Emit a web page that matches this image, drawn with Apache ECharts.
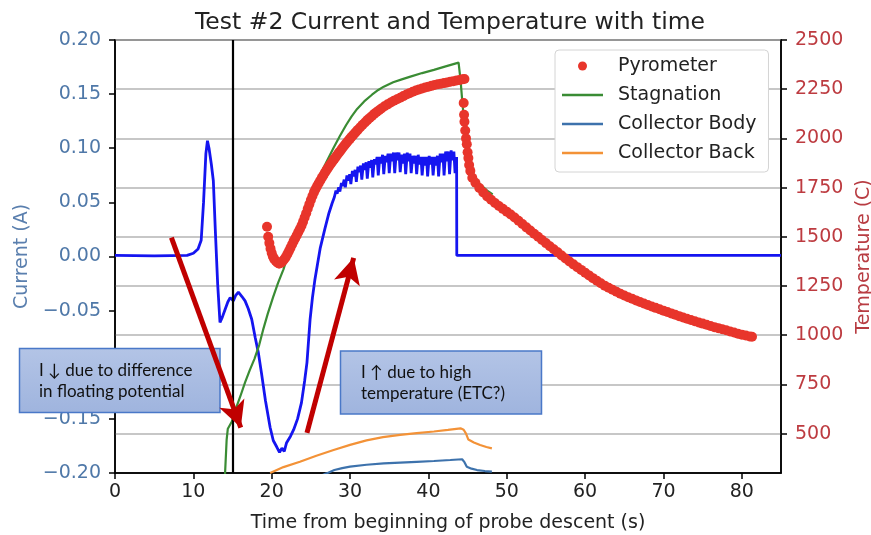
<!DOCTYPE html>
<html><head><meta charset="utf-8">
<script src="https://cdn.jsdelivr.net/npm/echarts@6/dist/echarts.min.js"></script>
<style>html,body{margin:0;padding:0;background:#fff}#c{width:871px;height:535px}</style>
</head><body><div id="c"></div>
<script>
const titleText = 'Test #2 Current and Temperature with time';
const xName = 'Time from beginning of probe descent (s)';
const leftName = 'Current (A)';
const rightName = 'Temperature (C)';
const xTicks = [0, 10, 20, 30, 40, 50, 60, 70, 80];
const tempTicks = [500, 750, 1000, 1250, 1500, 1750, 2000, 2250, 2500];
const legendNames = ['Pyrometer', 'Stagnation', 'Collector Body', 'Collector Back'];

const currentData = [
 [0,0.001],[5,0.0005],[9.2,0.001],[10.0,0.003],[10.6,0.007],[11.0,0.015],[11.3,0.05],[11.6,0.095],[11.8,0.107],[12.0,0.1],
 [12.3,0.085],[12.55,0.07],[12.8,0.025],[13.1,-0.025],[13.4,-0.061],[13.7,-0.056],[14.05,-0.049],[14.4,-0.042],[14.7,-0.038],
 [15.1,-0.041],[15.4,-0.036],[15.75,-0.033],[16.2,-0.037],[16.6,-0.041],[17.0,-0.048],[17.45,-0.058],[17.9,-0.075],[18.3,-0.089],
 [18.7,-0.108],[19.2,-0.133],[19.8,-0.158],[20.2,-0.17],[20.65,-0.176],[21.0,-0.181],[21.3,-0.177],[21.6,-0.18],[21.9,-0.172],
 [22.4,-0.166],[22.8,-0.16],[23.3,-0.15],[23.8,-0.135],[24.2,-0.115],[24.5,-0.098],[24.9,-0.058],[25.2,-0.038],[25.5,-0.022],
 [25.8,-0.009],[26.2,0.008],[26.8,0.026],[27.3,0.04],[27.7,0.049],[28.0,0.055],[28.2,0.061],[28.35,0.058],[28.55,0.064],[28.7,0.06],
 [28.9,0.068],[29.05,0.065],[29.25,0.071],[29.4,0.064],[29.6,0.075],[29.75,0.07],[29.95,0.076],[30.1,0.067],[30.3,0.079],
 [30.45,0.074],[30.65,0.08],[30.8,0.069],[31.0,0.083],[31.15,0.078],[31.35,0.084],[31.5,0.071],[31.7,0.086],[31.85,0.08],
 [32.05,0.087],[32.2,0.072],[32.4,0.088],[32.55,0.082],[32.75,0.089],[32.9,0.073],[33.1,0.09],[33.25,0.085],[33.45,0.092],
 [33.6,0.075],[33.8,0.092],[33.95,0.086],[34.15,0.094],[34.3,0.076],[34.5,0.093],[34.65,0.087],[34.85,0.095],[35.0,0.077],
 [35.2,0.095],[35.35,0.088],[35.55,0.096],[35.7,0.077],[35.9,0.096],[36.05,0.089],[36.25,0.096],[36.4,0.078],[36.6,0.094],
 [36.75,0.086],[36.95,0.095],[37.1,0.076],[37.3,0.096],[37.45,0.088],[37.65,0.095],[37.8,0.077],[38.0,0.093],[38.15,0.086],
 [38.35,0.093],[38.5,0.076],[38.7,0.094],[38.85,0.085],[39.05,0.092],[39.2,0.075],[39.4,0.092],[39.55,0.084],[39.75,0.092],
 [39.9,0.074],[40.1,0.093],[40.25,0.085],[40.45,0.092],[40.6,0.075],[40.8,0.092],[40.95,0.084],[41.15,0.093],[41.3,0.074],
 [41.5,0.095],[41.65,0.087],[41.85,0.095],[42.0,0.075],[42.2,0.097],[42.35,0.088],[42.55,0.097],[42.7,0.076],[42.9,0.098],
 [43.05,0.089],[43.25,0.097],[43.4,0.077],[43.6,0.092],[43.62,0.001],[85,0.001]
];

const pyrometerData = [
 [19.4,1551],[19.55,1500],[19.7,1468],[19.85,1440],[20.0,1418],[20.15,1400],[20.3,1388],[20.5,1378],[20.7,1370],[20.9,1365],
 [21.0,1365],[21.2,1368],[21.4,1376],[21.6,1386],[21.8,1397],[22.0,1412],[22.2,1428],[22.4,1444],[22.6,1461],[22.8,1478],
 [23.0,1493],[23.2,1508],[23.4,1524],[23.6,1540],[23.8,1556],[24.0,1576],[24.2,1598],[24.4,1620],[24.6,1643],[24.8,1665],
 [25.0,1687],[25.2,1707],[25.4,1727],[25.6,1743],[25.8,1758],[26.0,1772],[26.2,1786],[26.4,1800],[26.6,1813],[26.8,1827],
 [27.0,1839],[27.2,1851],[27.4,1863],[27.6,1874],[27.8,1885],[28.0,1896],[28.2,1907],[28.4,1918],[28.6,1929],[28.8,1939],
 [29.0,1950],[29.2,1960],[29.4,1970],[29.6,1980],[29.8,1989],[30.0,1999],[30.2,2008],[30.4,2017],[30.6,2026],[30.8,2035],
 [31.0,2044],[31.3,2057],[31.6,2069],[31.9,2081],[32.2,2093],[32.5,2104],[32.8,2114],[33.1,2125],[33.4,2134],[33.7,2143],
 [34.0,2152],[34.4,2163],[34.8,2173],[35.2,2182],[35.6,2191],[36.0,2199],[36.4,2207],[36.8,2215],
 [37.2,2223],[37.6,2230],[38.0,2237],[38.4,2243],[38.8,2249],[39.2,2254],[39.6,2259],[40.0,2263],[40.4,2267],[40.8,2271],
 [41.2,2275],[41.6,2278],[42.0,2281],[42.4,2284],[42.8,2288],[43.2,2291],[43.6,2294],[44.0,2297],[44.3,2300],[44.6,2302],
 [44.5,2180],[44.55,2120],[44.6,2085],[44.7,2040],[44.8,2000],[44.9,1970],[45.0,1930],[45.1,1900],[45.2,1865],[45.35,1835],
 [45.6,1800],[46.0,1775],[46.5,1748],[47.0,1725],[47.5,1705],[48.0,1688],[48.5,1672],[49.0,1657],[49.5,1642],[50.0,1628],
 [50.5,1613],[51.0,1598],[51.5,1582],[52.0,1565],[52.5,1548],[53.0,1532],[53.5,1516],[54.0,1500],[54.5,1484],[55.0,1468],
 [55.5,1452],[56.0,1437],[56.5,1421],[57.0,1405],[57.5,1390],[58.0,1375],[58.5,1360],[59.0,1346],[59.5,1332],[60.0,1318],
 [60.5,1304],[61.0,1290],[61.5,1277],[62.0,1264],[62.5,1252],[63.0,1241],[63.5,1231],[64.0,1221],[64.5,1211],[65.0,1202],
 [65.5,1193],[66.0,1185],[66.5,1177],[67.0,1169],[67.5,1161],[68.0,1154],[68.5,1146],[69.0,1139],[69.5,1132],[70.0,1125],
 [70.5,1118],[71.0,1111],[71.5,1104],[72.0,1097],[72.5,1090],[73.0,1084],[73.5,1077],[74.0,1071],[74.5,1065],[75.0,1059],
 [75.5,1053],[76.0,1047],[76.5,1041],[77.0,1036],[77.5,1030],[78.0,1025],[78.5,1019],[79.0,1014],[79.5,1008],[80.0,1003],
 [80.5,999],[81.0,994],[81.3,992]
];

const stagnationData = [
 [13.9,150],[14.05,300],[14.25,470],[14.4,525],[14.9,560],[15.4,625],[16.0,690],[16.6,760],[17.2,823],[17.8,880],[18.4,950],
 [18.9,1027],[19.5,1110],[20.2,1196],[20.8,1265],[21.5,1335],[22.1,1410],[22.8,1484],[23.6,1565],[24.5,1653],[25.3,1735],
 [26.2,1815],[27.0,1882],[27.9,1952],[28.7,2012],[29.5,2068],[30.2,2112],[30.9,2150],[31.8,2188],[32.8,2222],[33.6,2246],
 [34.3,2263],[35.5,2285],[36.6,2300],[37.7,2314],[39.2,2332],[40.7,2348],[42.2,2366],[43.85,2385],[44.1,2297],[44.3,2200],
 [44.5,2110],[44.7,2020],[44.9,1945],[45.3,1860],[45.8,1810],[46.5,1770],[47.5,1735],[48.2,1715]
];

const bodyData = [
 [26.5,290],[27.0,298],[28.0,315],[29.0,325],[30.0,332],[32.1,342],[34.3,349],[36.4,353],[38.5,357],[40.7,361],
 [42.8,366],[44.3,370],[44.6,355],[44.9,332],[45.5,322],[46.2,315],[47.2,310],[48.1,307]
];

const backData = [
 [19.8,300],[20.0,307],[21.5,330],[23.6,357],[25.7,388],[27.9,417],[30.0,443],[32.1,466],[34.2,482],[36.4,494],
 [38.5,503],[40.7,511],[42.5,519],[44.1,527],[44.5,520],[44.8,500],[45.1,470],[45.8,455],[46.6,442],[47.4,432],[48.1,425]
];

const markerTime = 15;
const arrowDown = [[7.2, 0.0175], [16.05, -0.158]];
const arrowUp = [[24.5, -0.163], [30.46, -0.0012]];
const note1 = ['I \u2193 due to difference', 'in floating potential'];
const note2 = ['I \u2191 due to high', 'temperature (ETC?)'];

const FONT = 'DejaVu Sans';
const chart = echarts.init(document.getElementById('c'), null, {renderer: 'canvas'});

function noteBox(x, y, w, h, lines, tx, ty) {
  return {
    type: 'group', z: 3,
    children: [
      {type: 'rect', shape: {x: x, y: y, width: w, height: h}, z: 3,
       style: {fill: new echarts.graphic.LinearGradient(0, 0, 0, 1, [{offset: 0, color: '#b3c4e6'}, {offset: 1, color: '#9fb4de'}]),
               stroke: '#4a78c8', lineWidth: 1.5}},
      {type: 'text', x: tx, y: ty, z: 4,
       style: {text: lines.join('\n'), font: '17px Lato', lineHeight: 21, fill: '#111', textVerticalAlign: 'top'}}
    ]
  };
}

const arrowStyle = {color: '#c00000', width: 5, type: 'solid'};
const lineIcon = 'path://M0,0H40V2.4H0Z';

chart.setOption({
  animation: false,
  backgroundColor: '#fff',
  title: {text: titleText, left: 190, top: 6, textStyle: {fontFamily: FONT, fontSize: 23.5, fontWeight: 'normal', color: '#222'}},
  grid: {left: 115, right: 90, top: 40, bottom: 62, show: true, borderColor: '#000', borderWidth: 1.5,
         backgroundColor: 'transparent', outerBoundsMode: 'none', containLabel: false},
  legend: {
    data: [
      {name: legendNames[0], icon: 'circle'},
      {name: legendNames[1], icon: lineIcon},
      {name: legendNames[2], icon: lineIcon},
      {name: legendNames[3], icon: lineIcon}
    ],
    orient: 'vertical', left: 555, top: 50,
    itemWidth: 41, itemHeight: 9, itemGap: 9, symbolKeepAspect: true,
    padding: [6, 12, 9, 7],
    backgroundColor: '#fff', borderColor: '#d4d4d4', borderWidth: 1, borderRadius: 4,
    textStyle: {fontFamily: FONT, fontSize: 19, color: '#222', lineHeight: 20, padding: [0, 0, 0, 10]}
  },
  xAxis: {
    type: 'value', min: 0, max: 85,
    name: xName, nameLocation: 'middle', nameGap: 41,
    nameTextStyle: {fontFamily: FONT, fontSize: 19, color: '#222'},
    axisLine: {show: true, onZero: false, lineStyle: {color: '#000', width: 1.5}},
    axisTick: {show: true, length: 6, lineStyle: {color: '#000', width: 1.5}, customValues: xTicks},
    axisLabel: {fontFamily: FONT, fontSize: 19, color: '#222', margin: 10, customValues: xTicks},
    splitLine: {show: false}
  },
  yAxis: [
    {
      type: 'value', min: -0.2, max: 0.2, interval: 0.05, position: 'left',
      name: leftName, nameLocation: 'middle', nameGap: 82, nameRotate: 90,
      nameTextStyle: {fontFamily: FONT, fontSize: 19, color: '#5a7fae'},
      axisLine: {show: true, onZero: false, lineStyle: {color: '#000', width: 1.5}},
      axisTick: {show: true, length: 6, lineStyle: {color: '#000', width: 1.5}},
      axisLabel: {fontFamily: FONT, fontSize: 19, color: '#4f78a8', margin: 14,
        formatter: v => Math.abs(v) < 1e-9 ? '0.00' : (v < 0 ? '\u2212' : '') + Math.abs(v).toFixed(2)},
      splitLine: {show: false}
    },
    {
      type: 'value', min: 300, max: 2500, position: 'right',
      name: rightName, nameLocation: 'middle', nameGap: 70, nameRotate: 90,
      nameTextStyle: {fontFamily: FONT, fontSize: 19, color: '#b83c42'},
      axisLine: {show: true, onZero: false, lineStyle: {color: '#000', width: 1.5}},
      axisTick: {show: true, length: 6, lineStyle: {color: '#000', width: 1.5}, customValues: tempTicks},
      axisLabel: {fontFamily: FONT, fontSize: 19, color: '#bd3b40', margin: 14, customValues: tempTicks,
        formatter: v => String(Math.round(v))},
      splitLine: {show: true, lineStyle: {color: '#b4b4b4', width: 1.5}}
    }
  ],
  series: [
    {
      name: 'Current', type: 'line', yAxisIndex: 0, data: currentData, symbol: 'none',
      lineStyle: {color: '#1515f0', width: 2.8}, itemStyle: {color: '#1515f0'}, z: 2,
      markLine: {
        silent: true, animation: false, symbol: ['none', 'none'], label: {show: false}, z: 5,
        data: [
          {xAxis: markerTime, lineStyle: {color: '#000', width: 2.2, type: 'solid'}},
          [{coord: arrowDown[0], symbol: 'none', lineStyle: arrowStyle},
           {coord: arrowDown[1], symbol: 'arrow', symbolSize: [20, 26], lineStyle: arrowStyle, itemStyle: {color: '#c00000'}}],
          [{coord: arrowUp[0], symbol: 'none', lineStyle: arrowStyle},
           {coord: arrowUp[1], symbol: 'arrow', symbolSize: [20, 26], lineStyle: arrowStyle, itemStyle: {color: '#c00000'}}]
        ]
      }
    },
    {
      name: 'Pyrometer', type: 'scatter', yAxisIndex: 1, data: pyrometerData, symbol: 'circle', symbolSize: 10,
      itemStyle: {color: '#e8352b', opacity: 1}, z: 2
    },
    {
      name: 'Stagnation', type: 'line', yAxisIndex: 1, data: stagnationData, symbol: 'none',
      lineStyle: {color: '#3a8c34', width: 2.2}, itemStyle: {color: '#3a8c34'}, z: 2
    },
    {
      name: 'Collector Body', type: 'line', yAxisIndex: 1, data: bodyData, symbol: 'none',
      lineStyle: {color: '#3d72ac', width: 2.2}, itemStyle: {color: '#3d72ac'}, z: 2
    },
    {
      name: 'Collector Back', type: 'line', yAxisIndex: 1, data: backData, symbol: 'none',
      lineStyle: {color: '#f39237', width: 2.2}, itemStyle: {color: '#f39237'}, z: 2
    }
  ],
  graphic: [
    noteBox(19.5, 348.5, 200.5, 64, note1, 39, 360),
    noteBox(340.5, 351, 201, 63, note2, 361, 362)
  ]
});
</script></body></html>
